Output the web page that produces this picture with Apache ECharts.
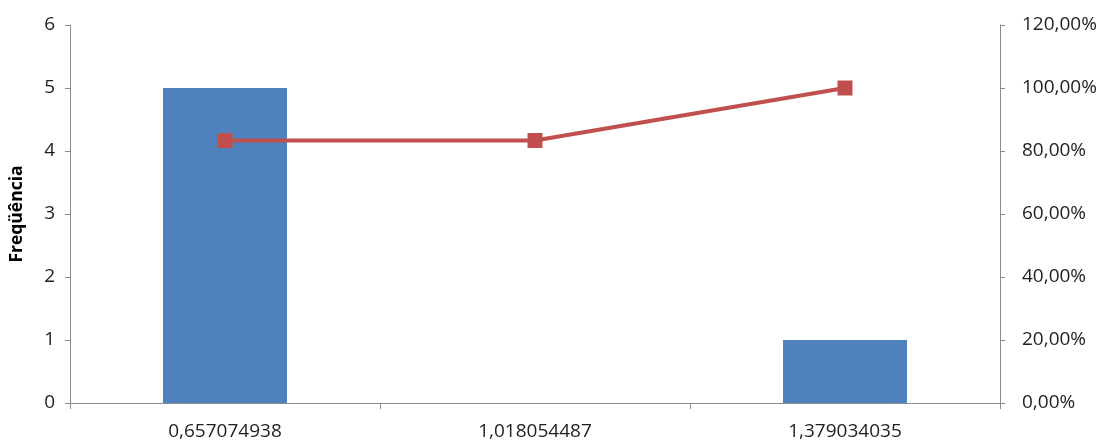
<!DOCTYPE html>
<html>
<head>
<meta charset="utf-8">
<script src="https://cdn.jsdelivr.net/npm/echarts@6/dist/echarts.min.js"></script>
<style>
  html, body { margin: 0; padding: 0; background: #fff; }
  #chart { width: 1100px; height: 441px; }
</style>
</head>
<body>
<div id="chart"></div>
<script>
// Histogram bins (upper limits) and counts, with cumulative percentage
const categories = ['0,657074938', '1,018054487', '1,379034035'];
const frequency = [5, 0, 1];
const cumulativePct = [83.3333, 83.3333, 100];
const leftTicks = [0, 1, 2, 3, 4, 5, 6];
const rightTicks = [0, 20, 40, 60, 80, 100, 120];

const font = '"Open Sans", "Liberation Sans", sans-serif';
const axisGray = '#8c8c8c';
const textColor = '#1f1f1f';

function pctLabel(v) {
  return v.toFixed(2).replace('.', ',') + '%';
}

const chart = echarts.init(document.getElementById('chart'), null, { renderer: 'canvas' });
chart.setOption({
  animation: false,
  backgroundColor: '#ffffff',
  grid: { left: 70, right: 100, top: 25, bottom: 38, containLabel: false },
  xAxis: {
    type: 'category',
    data: categories,
    boundaryGap: true,
    axisLine: { lineStyle: { color: axisGray, width: 1 } },
    axisTick: { show: true, length: 6, alignWithLabel: false, lineStyle: { color: axisGray } },
    axisLabel: { color: textColor, fontFamily: font, fontSize: 19, margin: 19 },
    splitLine: { show: false }
  },
  yAxis: [
    {
      type: 'value',
      min: leftTicks[0],
      max: leftTicks[leftTicks.length - 1],
      interval: 1,
      name: 'Freqüência',
      nameLocation: 'middle',
      nameRotate: 90,
      nameGap: 44,
      nameTextStyle: { color: '#000', fontFamily: font, fontSize: 17.5, fontWeight: 'bold' },
      axisLine: { show: true, lineStyle: { color: axisGray } },
      axisTick: { show: true, length: 5, lineStyle: { color: axisGray } },
      axisLabel: { color: textColor, fontFamily: font, fontSize: 19, margin: 15 },
      splitLine: { show: false }
    },
    {
      type: 'value',
      min: rightTicks[0],
      max: rightTicks[rightTicks.length - 1],
      interval: 20,
      position: 'right',
      axisLine: { show: true, lineStyle: { color: axisGray } },
      axisTick: { show: true, length: 5, lineStyle: { color: axisGray } },
      axisLabel: { color: textColor, fontFamily: font, fontSize: 19, margin: 22, formatter: pctLabel },
      splitLine: { show: false }
    }
  ],
  series: [
    {
      name: 'Freqüência',
      type: 'bar',
      data: frequency,
      yAxisIndex: 0,
      barWidth: '40%',
      itemStyle: { color: '#4F81BD' }
    },
    {
      name: '% cumulativo',
      type: 'line',
      data: cumulativePct,
      yAxisIndex: 1,
      symbol: 'rect',
      symbolSize: 15,
      lineStyle: { color: '#C0504D', width: 4 },
      itemStyle: { color: '#C0504D' },
      z: 5
    }
  ]
});
</script>
</body>
</html>
